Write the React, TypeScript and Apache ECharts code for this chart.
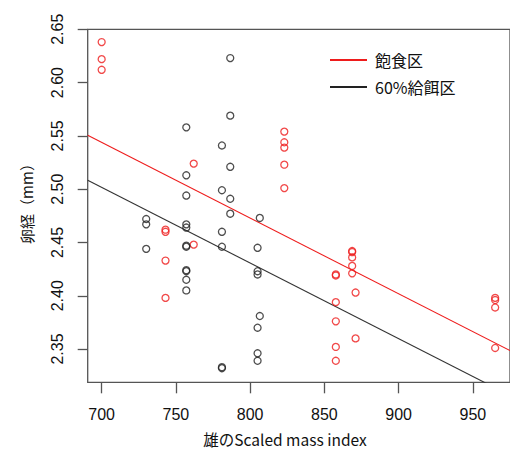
import React, { useEffect, useRef } from "react";
import * as echarts from "echarts";

// 飽食区 (ad libitum) points
const redX = [700, 700, 700, 743, 743, 743, 743, 762, 762, 823, 823, 823, 823, 823,
  857.7, 857.7, 857.7, 857.7, 857.7, 857.7, 868.7, 868.7, 868.7, 868.7, 868.7, 871, 871,
  965, 965, 965, 965];
const redY = [2.638, 2.622, 2.612, 2.462, 2.460, 2.433, 2.398, 2.524, 2.448, 2.554, 2.544, 2.539, 2.523, 2.501,
  2.420, 2.419, 2.394, 2.376, 2.352, 2.339, 2.442, 2.441, 2.436, 2.428, 2.421, 2.403, 2.360,
  2.398, 2.396, 2.389, 2.351];

// 60%給餌区 points
const blackX = [730, 730, 730, 757, 757, 757, 757, 757, 757, 757, 757, 757, 757, 757,
  781, 781, 781, 781, 781, 781, 786.6, 786.6, 786.6, 786.6, 786.6,
  805, 805, 805, 805, 805, 805, 806.5, 806.5];
const blackY = [2.472, 2.467, 2.444, 2.558, 2.513, 2.494, 2.467, 2.464, 2.447, 2.446, 2.424, 2.423, 2.415, 2.405,
  2.541, 2.499, 2.460, 2.446, 2.333, 2.332, 2.623, 2.569, 2.521, 2.491, 2.477,
  2.445, 2.423, 2.420, 2.370, 2.346, 2.339, 2.473, 2.381];

// Regression lines (endpoints at x-range limits)
const redLineX = [690.6, 975];
const redLineY = [2.5505, 2.3486];
const blackLineX = [690.6, 975];
const blackLineY = [2.5084, 2.3065];

const xTicks = [700, 750, 800, 850, 900, 950];
const yTicks = [2.35, 2.4, 2.45, 2.5, 2.55, 2.6, 2.65];
const seriesNames = ["飽食区", "60%給餌区"];

const RED = "#ee1c1c";
const BLACK = "#222222";
const AXIS = "#555555";
const TICKFONT = "Arial";
const JPFONT = "'Noto Sans CJK JP', sans-serif";

export default function App() {
  const ref = useRef<HTMLDivElement>(null);
  useEffect(() => {
    if (!ref.current) return;
    const chart = echarts.init(ref.current, undefined, { renderer: "svg" });
    const zip = (xs: number[], ys: number[]) => xs.map((x, i) => [x, ys[i]]);
    chart.setOption({
      animation: false,
      backgroundColor: "#ffffff",
      grid: {
        left: 87.7,
        top: 29.3,
        right: -3.2,
        bottom: 66.7,
        show: true,
        borderColor: AXIS,
        borderWidth: 1.3,
        backgroundColor: "transparent",
      },
      xAxis: {
        type: "value",
        min: 690.6,
        max: 975,
        axisLine: { show: false },
        splitLine: { show: false },
        axisTick: {
          show: true,
          length: 11,
          customValues: xTicks,
          lineStyle: { color: AXIS, width: 1.3 },
        },
        axisLabel: {
          customValues: xTicks,
          margin: 24,
          fontSize: 16,
          fontFamily: TICKFONT,
          color: "#111",
        },
      },
      yAxis: {
        type: "value",
        min: 2.3188,
        max: 2.65,
        axisLine: { show: false },
        splitLine: { show: false },
        axisTick: {
          show: true,
          length: 10,
          customValues: yTicks,
          lineStyle: { color: AXIS, width: 1.3 },
        },
        axisLabel: {
          customValues: yTicks,
          rotate: 90,
          margin: 22,
          fontSize: 16,
          fontFamily: TICKFONT,
          color: "#111",
          formatter: (v: number) => v.toFixed(2),
        },
      },
      legend: {
        orient: "vertical",
        left: 325,
        top: 46,
        icon: "rect",
        itemWidth: 37,
        itemHeight: 2,
        itemGap: 9,
        data: seriesNames,
        textStyle: {
          fontSize: 16,
          fontFamily: JPFONT,
          color: "#111",
          lineHeight: 18,
          padding: [0, 0, 0, 3],
        },
      },
      graphic: [
        {
          type: "text",
          x: 26,
          y: 200,
          rotation: Math.PI / 2,
          style: {
            text: "卵経（mm）",
            align: "center",
            verticalAlign: "middle",
            fontSize: 15,
            fontFamily: JPFONT,
            fill: "#111",
          },
        },
        {
          type: "text",
          x: 285,
          y: 439,
          style: {
            text: "雄のScaled mass index",
            align: "center",
            verticalAlign: "middle",
            fontSize: 15.5,
            fontFamily: JPFONT,
            fill: "#111",
          },
        },
      ],
      series: [
        {
          name: seriesNames[0],
          type: "line",
          data: zip(redLineX, redLineY),
          symbol: "none",
          lineStyle: { color: RED, width: 1.1 },
          itemStyle: { color: RED },
          clip: true,
          z: 2,
        },
        {
          name: seriesNames[1],
          type: "line",
          data: zip(blackLineX, blackLineY),
          symbol: "none",
          lineStyle: { color: "#333", width: 1.1 },
          itemStyle: { color: BLACK },
          clip: true,
          z: 2,
        },
        {
          name: "red-points",
          type: "scatter",
          data: zip(redX, redY),
          symbol: "circle",
          symbolSize: 7,
          itemStyle: { color: "rgba(0,0,0,0)", borderColor: RED, borderWidth: 1.3 },
          z: 3,
        },
        {
          name: "black-points",
          type: "scatter",
          data: zip(blackX, blackY),
          symbol: "circle",
          symbolSize: 7,
          itemStyle: { color: "rgba(0,0,0,0)", borderColor: BLACK, borderWidth: 1.3 },
          z: 3,
        },
      ],
    });
    return () => chart.dispose();
  }, []);
  return (
    <div
      ref={ref}
      style={{ position: "fixed", left: 0, top: 0, width: 510, height: 449, background: "#fff" }}
    />
  );
}
